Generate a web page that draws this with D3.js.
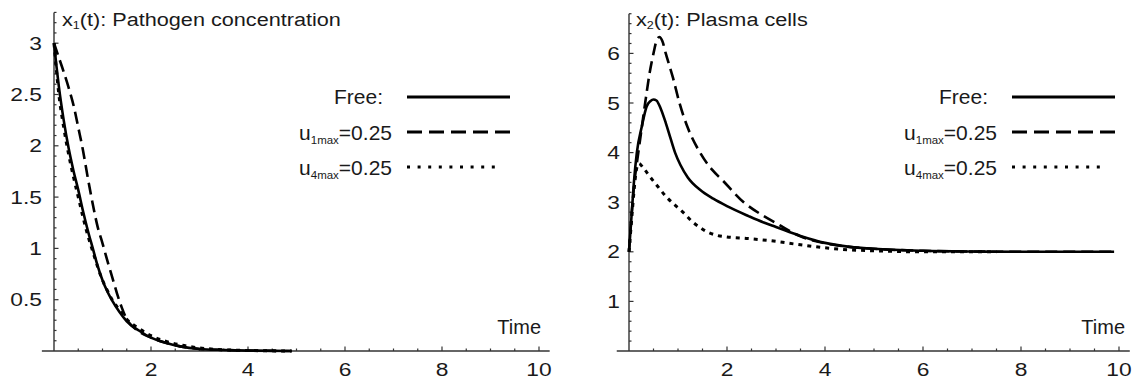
<!DOCTYPE html>
<html><head><meta charset="utf-8">
<script src="https://cdn.jsdelivr.net/npm/d3@7"></script>
<style>
html,body{margin:0;padding:0;background:#fff;}
svg text{font-family:"Liberation Sans",Arial,Helvetica,sans-serif;fill:#1a1a1a;}
</style></head><body>
<svg id="chart" width="1135" height="380"></svg>
<script>
// ---- data ----
const xTicks = [2, 4, 6, 8, 10];
const leftYTicks = [0.5, 1, 1.5, 2, 2.5, 3];
const rightYTicks = [1, 2, 3, 4, 5, 6];
const legendLabels = ["Free:", "u1max=0.25", "u4max=0.25"];

// x1(t): Pathogen concentration
const t1Free = [0, 0.05, 0.1, 0.2, 0.3, 0.4, 0.5, 0.6, 0.7, 0.8, 0.9, 1.0, 1.1, 1.2, 1.35, 1.5, 1.75, 2.0, 2.3, 2.6, 3.0, 3.5, 4.0, 4.9];
const x1Free = [3.0, 2.78, 2.58, 2.25, 1.98, 1.76, 1.57, 1.36, 1.17, 1.0, 0.83, 0.69, 0.58, 0.49, 0.38, 0.29, 0.2, 0.13, 0.08, 0.045, 0.02, 0.01, 0.004, 0.0];
const t1U1 = [0, 0.1, 0.2, 0.3, 0.4, 0.5, 0.6, 0.7, 0.8, 0.9, 1.0, 1.1, 1.2, 1.3, 1.4, 1.5, 1.75, 2.0, 2.3, 2.6, 3.0, 3.5, 4.0, 4.9];
const x1U1 = [3.0, 2.86, 2.72, 2.57, 2.4, 2.18, 1.95, 1.68, 1.43, 1.21, 1.05, 0.88, 0.72, 0.56, 0.42, 0.31, 0.19, 0.13, 0.08, 0.045, 0.02, 0.01, 0.004, 0.0];
const t1U4 = [0, 0.1, 0.2, 0.3, 0.4, 0.5, 0.6, 0.7, 0.8, 0.9, 1.0, 1.1, 1.2, 1.35, 1.5, 1.75, 2.0, 2.3, 2.6, 3.0, 3.5, 4.0, 4.9];
const x1U4 = [3.0, 2.5, 2.18, 1.92, 1.7, 1.5, 1.3, 1.12, 0.97, 0.82, 0.69, 0.59, 0.5, 0.4, 0.31, 0.22, 0.15, 0.095, 0.06, 0.03, 0.012, 0.005, 0.0];

// x2(t): Plasma cells
const t2Free = [0, 0.05, 0.1, 0.16, 0.26, 0.36, 0.44, 0.5, 0.56, 0.65, 0.75, 0.85, 0.94, 1.05, 1.2, 1.45, 1.72, 2.0, 2.44, 2.75, 3.0, 3.5, 4.0, 4.5, 5.0, 6.0, 7.0, 8.0, 9.9];
const x2Free = [2.0, 2.7, 3.4, 4.0, 4.52, 4.93, 5.04, 5.07, 5.05, 4.88, 4.6, 4.28, 4.0, 3.75, 3.5, 3.25, 3.07, 2.92, 2.72, 2.59, 2.5, 2.32, 2.18, 2.1, 2.06, 2.02, 2.005, 2.0, 2.0];
const t2U1 = [0, 0.1, 0.19, 0.26, 0.33, 0.42, 0.5, 0.56, 0.62, 0.68, 0.75, 0.9, 1.03, 1.2, 1.45, 1.7, 1.9, 2.34, 2.7, 3.0, 3.5, 4.0, 4.5, 5.0, 6.0, 7.0, 8.0, 9.9];
const x2U1 = [2.0, 3.3, 4.0, 4.5, 5.0, 5.6, 6.0, 6.25, 6.33, 6.25, 6.0, 5.5, 5.0, 4.5, 4.0, 3.65, 3.45, 3.0, 2.75, 2.58, 2.31, 2.17, 2.1, 2.06, 2.02, 2.005, 2.0, 2.0];
const t2U4 = [0, 0.05, 0.1, 0.15, 0.2, 0.3, 0.43, 0.6, 0.77, 0.95, 1.11, 1.3, 1.45, 1.6, 1.8, 2.0, 2.4, 3.0, 3.5, 4.0, 4.5, 5.0, 6.0, 7.5];
const x2U4 = [2.0, 2.6, 3.2, 3.65, 3.78, 3.68, 3.51, 3.3, 3.1, 2.93, 2.79, 2.6, 2.49, 2.4, 2.33, 2.3, 2.27, 2.21, 2.14, 2.08, 2.04, 2.02, 2.0, 2.0];

// ---- drawing ----
const svg = d3.select("#chart");
const styles = {
  solid: {dash: null, w: 2.6},
  dashed: {dash: "12,6", w: 2.6},
  dotted: {dash: "4,5", w: 3}
};
const legendDash = {solid: null, dashed: "15,7", dotted: "3,7.6"};
const TICK_STRETCH = 1.2, TITLE_STRETCH = 1.14;

function panel(cfg) {
  const x = d3.scaleLinear().domain([0, 10]).range(cfg.xr);
  const y = d3.scaleLinear().domain([0, cfg.ymaxTick]).range([351, cfg.ytop]);
  const g = svg.append("g");

  // axes lines
  g.append("line").attr("x1", x(cfg.xAxisMin)).attr("x2", x(cfg.xAxisMax))
    .attr("y1", y(0)).attr("y2", y(0)).attr("stroke", "#333").attr("stroke-width", 1.4);
  g.append("line").attr("x1", x(0)).attr("x2", x(0))
    .attr("y1", y(0)).attr("y2", y(cfg.yAxisMax)).attr("stroke", "#333").attr("stroke-width", 1.4);

  // x ticks
  const xMinor = d3.range(0.5, 10.01, 0.5);
  g.selectAll(".xt").data(xMinor).join("line")
    .attr("x1", d => x(d)).attr("x2", d => x(d))
    .attr("y1", y(0)).attr("y2", d => y(0) - (Math.abs(d % 2) < 1e-6 ? 4.5 : 2.5))
    .attr("stroke", "#333").attr("stroke-width", 1.2);
  g.selectAll(".xl").data(xTicks).join("text")
    .attr("transform", d => `translate(${x(d)},376) scale(${TICK_STRETCH},1)`)
    .attr("text-anchor", "middle")
    .attr("font-size", 19).text(d => d);

  // y ticks
  const yMinor = d3.range(cfg.yMinorStep, cfg.yAxisMax + 1e-6, cfg.yMinorStep);
  g.selectAll(".yt").data(yMinor).join("line")
    .attr("x1", x(0)).attr("x2", d => x(0) + (cfg.yTicks.some(v => Math.abs(v - d) < 1e-6) ? 4.5 : 2.5))
    .attr("y1", d => y(d)).attr("y2", d => y(d))
    .attr("stroke", "#333").attr("stroke-width", 1.2);
  g.selectAll(".yl").data(cfg.yTicks).join("text")
    .attr("transform", d => `translate(${cfg.yLabelX},${y(d) + 6.5}) scale(${TICK_STRETCH},1)`)
    .attr("text-anchor", "end")
    .attr("font-size", 19).text(d => d);

  // title
  const title = g.append("text")
    .attr("transform", `translate(${cfg.titleX},26) scale(${TITLE_STRETCH},1)`)
    .attr("font-size", 19);
  title.append("tspan").text("x");
  title.append("tspan").attr("font-size", 11).attr("dy", 3).text(cfg.sub);
  title.append("tspan").attr("dy", -3).text("(t): " + cfg.title);

  // Time label
  g.append("text").attr("x", cfg.timeX).attr("y", 334).attr("text-anchor", "end")
    .attr("font-size", 20).text("Time");

  // curves
  const line = d3.line().x(d => x(d[0])).y(d => y(d[1])).curve(d3.curveMonotoneX);
  cfg.series.forEach(s => {
    const pts = s.t.map((t, i) => [t, s.v[i]]);
    g.append("path").datum(pts).attr("d", line)
      .attr("fill", "none").attr("stroke", "#000")
      .attr("stroke-width", styles[s.style].w)
      .attr("stroke-dasharray", styles[s.style].dash)
      .attr("stroke-linejoin", "round");
  });

  // legend
  const rows = [
    {label: legendLabels[0], style: "solid", ly: 97, ty: 104},
    {label: legendLabels[1], style: "dashed", ly: 132, ty: 140},
    {label: legendLabels[2], style: "dotted", ly: 167, ty: 175}
  ];
  rows.forEach((r, i) => {
    const t = g.append("text").attr("x", i === 0 ? cfg.legFreeX : cfg.legUX)
      .attr("y", r.ty).attr("text-anchor", "end").attr("font-size", 21);
    if (i === 0) {
      t.text(r.label);
    } else {
      const m = r.label.match(/^u(\dmax)(=.*)$/);
      t.append("tspan").text("u");
      t.append("tspan").attr("font-size", 11.5).attr("dy", 4).text(m[1]);
      t.append("tspan").attr("dy", -4).text(m[2]);
    }
    g.append("line").attr("x1", cfg.legLine[0]).attr("x2", r.style === "dotted" ? cfg.legLine[1] - 8 : cfg.legLine[1])
      .attr("y1", r.ly).attr("y2", r.ly)
      .attr("stroke", "#000").attr("stroke-width", 3)
      .attr("stroke-dasharray", legendDash[r.style]);
  });
}

panel({
  xr: [54, 539], ymaxTick: 3, ytop: 43.2, xAxisMin: -0.25, xAxisMax: 10.22, yAxisMax: 3.3,
  yMinorStep: 0.1, yTicks: leftYTicks, yLabelX: 42, titleX: 62, sub: "1",
  title: "Pathogen concentration", timeX: 541,
  legFreeX: 383, legUX: 392, legLine: [407, 510],
  series: [
    {t: t1Free, v: x1Free, style: "solid"},
    {t: t1U1, v: x1U1, style: "dashed"},
    {t: t1U4, v: x1U4, style: "dotted"}
  ]
});
panel({
  xr: [629, 1119], ymaxTick: 6, ytop: 53.4, xAxisMin: -0.25, xAxisMax: 10.22, yAxisMax: 6.8,
  yMinorStep: 0.2, yTicks: rightYTicks, yLabelX: 620, titleX: 636, sub: "2",
  title: "Plasma cells", timeX: 1125,
  legFreeX: 988, legUX: 997, legLine: [1012, 1115],
  series: [
    {t: t2Free, v: x2Free, style: "solid"},
    {t: t2U1, v: x2U1, style: "dashed"},
    {t: t2U4, v: x2U4, style: "dotted"}
  ]
});
</script>
</body></html>
